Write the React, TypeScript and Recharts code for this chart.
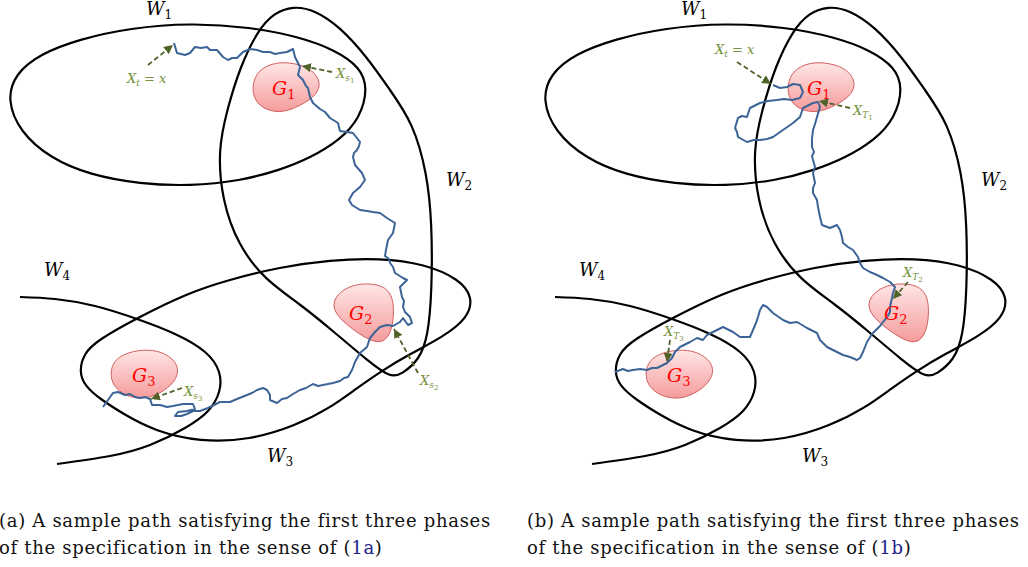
import React from "react";
import { ComposedChart, Line, Scatter, XAxis, YAxis } from "recharts";

type Pt = [number, number];

const PANEL_W = 535;
const PANEL_H = 480;

// region outlines (same in both panels, panel pixel coords)
const W1: Pt[] = [
  [368, 88], [360, 118], [340, 140], [310, 158], [280, 170], [240, 181], [190, 186],
  [140, 184], [90, 175], [50, 158], [20, 132], [7, 100], [15, 74], [40, 54], [80, 39],
  [130, 28], [190, 23], [250, 27], [300, 37], [335, 50], [360, 67],
];
const W2: Pt[] = [
  [293, 6], [315, 10], [340, 27], [367, 57], [390, 90], [413, 123], [427, 173], [432, 223],
  [432, 290], [428, 337], [419, 360], [402, 374], [391, 378], [368, 361], [333, 331],
  [300, 304], [265, 280], [238, 245], [222, 200], [218, 150], [227, 110], [240, 67],
  [258, 30], [274, 13],
];
const W3: Pt[] = [
  [79, 372], [84, 353], [98, 340], [137, 318], [188, 293], [228, 280], [280, 267], [330, 260],
  [380, 258], [425, 264], [459, 279], [473, 297], [468, 318], [443, 337], [410, 354],
  [383, 370], [357, 388], [330, 408], [295, 426], [250, 440], [200, 442], [155, 431],
  [125, 415], [100, 399], [85, 386],
];
const W4: Pt[] = [
  [20, 297], [55, 299], [95, 306], [137, 319], [175, 334], [205, 352], [219, 372],
  [219, 392], [208, 411], [185, 428], [150, 445], [110, 456], [57, 464],
];

// goal sets
const G1: Pt[] = [
  [252, 85], [258, 70], [275, 62], [295, 63], [312, 69], [321, 82], [317, 95], [300, 106],
  [282, 113], [265, 110], [254, 100],
];
const G2: Pt[] = [
  [332, 305], [338, 293], [352, 285], [370, 283], [386, 287], [393, 298], [394, 315],
  [391, 333], [383, 343], [370, 341], [352, 329], [338, 317],
];
const G3: Pt[] = [
  [110, 373], [114, 360], [128, 352], [148, 349], [166, 353], [179, 365], [177, 379],
  [165, 391], [145, 400], [125, 396], [113, 386],
];

// sample path (a)
const PATH_A: Pt[] = [
  [174, 43], [177, 53], [185, 55], [190, 53], [195, 47], [201, 48], [207, 47], [210, 50],
  [217, 50], [223, 57], [228, 60], [232, 58], [237, 58], [243, 52], [250, 49], [257, 50],
  [263, 52], [270, 52], [275, 54], [280, 53], [287, 52], [293, 49], [295, 57], [300, 67],
  [298, 75], [303, 80], [306, 86], [308, 88], [310, 97], [313, 103], [320, 109], [325, 112],
  [330, 118], [338, 123], [340, 131], [347, 132], [353, 133], [360, 142], [359, 146],
  [357, 150], [354, 153], [353, 157], [355, 165], [362, 173], [365, 180], [360, 187],
  [353, 193], [349, 200], [352, 205], [360, 210], [367, 211], [373, 212], [380, 213],
  [387, 218], [395, 223], [393, 233], [388, 240], [386, 250], [385, 256], [389, 259],
  [390, 263], [393, 267], [395, 273], [403, 278], [407, 280], [400, 287], [402, 297],
  [404, 301], [403, 307], [405, 312], [410, 317], [412, 323], [408, 325], [403, 318],
  [400, 322], [393, 326], [387, 325], [380, 327], [375, 332], [370, 338], [367, 347],
  [360, 353], [355, 362], [352, 370], [348, 377], [344, 378], [340, 381], [333, 383],
  [323, 385], [318, 386], [313, 384], [306, 388], [300, 390], [293, 394], [287, 398],
  [282, 399], [277, 403], [270, 400], [270, 395], [267, 390], [263, 388], [257, 390],
  [252, 393], [247, 395], [237, 399], [230, 402], [220, 402], [214, 405], [208, 408],
  [200, 411], [193, 411], [187, 414], [181, 416], [175, 416], [178, 412], [187, 411],
  [195, 409], [193, 404], [183, 404], [173, 406], [167, 407], [160, 405], [152, 405],
  [150, 399], [145, 397], [140, 398], [135, 397], [130, 394], [125, 395], [118, 392],
  [113, 393], [108, 400], [103, 407],
];

// sample path (b)
const PATH_B: Pt[] = [
  [238, 85], [245, 88], [252, 87], [258, 84], [265, 85], [268, 92], [265, 98], [257, 100],
  [249, 99], [242, 100], [233, 101], [225, 103], [215, 108], [212, 117], [207, 116],
  [203, 118], [200, 128], [202, 132], [203, 137], [212, 142], [219, 140], [225, 140],
  [232, 139], [238, 137], [248, 130], [258, 123], [265, 117], [268, 108], [278, 103],
  [283, 102], [285, 107], [282, 117], [280, 124], [278, 130], [277, 139], [277, 147],
  [279, 152], [277, 156], [278, 160], [280, 167], [278, 173], [280, 183], [278, 188],
  [278, 193], [282, 200], [283, 207], [285, 217], [287, 225], [295, 228], [302, 225],
  [305, 230], [307, 237], [308, 243], [313, 247], [318, 250], [323, 257], [325, 263],
  [328, 268], [335, 272], [342, 275], [348, 278], [355, 282], [360, 287], [358, 293],
  [357, 298], [355, 307], [355, 312], [352, 317], [345, 326], [342, 329], [337, 334],
  [332, 342], [328, 352], [325, 358], [322, 360], [315, 357], [308, 355], [298, 350],
  [292, 347], [285, 340], [282, 333], [272, 328], [262, 322], [255, 323], [248, 320],
  [238, 313], [232, 307], [228, 305], [225, 310], [223, 317], [221, 323], [218, 330],
  [215, 337], [205, 337], [198, 332], [188, 327], [182, 330], [172, 335], [168, 340],
  [162, 338], [155, 342], [145, 347], [140, 352], [137, 358], [132, 363], [122, 368],
  [117, 368], [112, 370], [105, 369], [98, 370], [93, 371], [88, 369], [80, 372],
];

const ARROWS_A: Pt[][] = [
  [[148, 65], [173, 45]],
  [[332, 72], [302, 66]],
  [[418, 373], [394, 329]],
  [[182, 388], [151, 399]],
];
const ARROWS_B: Pt[][] = [
  [[202, 62], [236, 84]],
  [[315, 108], [284, 101]],
  [[373, 282], [358, 299]],
  [[135, 340], [132, 362]],
];

type Lbl = { x: number; y: number; kind: "w" | "g" | "x"; main: string; sub: string; subsub?: string; tail?: string };

const REGION_LABELS: Lbl[] = [
  { x: 146, y: 15, kind: "w", main: "W", sub: "1" },
  { x: 446, y: 186, kind: "w", main: "W", sub: "2" },
  { x: 267, y: 462, kind: "w", main: "W", sub: "3" },
  { x: 44, y: 276, kind: "w", main: "W", sub: "4" },
  { x: 272, y: 95, kind: "g", main: "G", sub: "1" },
  { x: 349, y: 320, kind: "g", main: "G", sub: "2" },
  { x: 132, y: 382, kind: "g", main: "G", sub: "3" },
];
const MARKS_A: Lbl[] = [
  { x: 127, y: 83, kind: "x", main: "X", sub: "t", tail: " = x" },
  { x: 336, y: 78, kind: "x", main: "X", sub: "s", subsub: "1" },
  { x: 420, y: 385, kind: "x", main: "X", sub: "s", subsub: "2" },
  { x: 184, y: 396, kind: "x", main: "X", sub: "s", subsub: "3" },
];
const MARKS_B: Lbl[] = [
  { x: 180, y: 54, kind: "x", main: "X", sub: "t", tail: " = x" },
  { x: 318, y: 115, kind: "x", main: "X", sub: "T", subsub: "1" },
  { x: 368, y: 277, kind: "x", main: "X", sub: "T", subsub: "2" },
  { x: 129, y: 336, kind: "x", main: "X", sub: "T", subsub: "3" },
];

const rows = (pts: Pt[]) => pts.map(([x, y]) => ({ x, y }));

const STY = {
  w: { color: "#000", size: 18, sub: 12, dy: 4 },
  g: { color: "#ff0000", size: 19, sub: 13, dy: 4 },
  x: { color: "#76923c", size: 13, sub: 9, dy: 3 },
};

function MathLabel(props: any) {
  const { cx, cy, payload } = props;
  const s = STY[payload.kind as "w" | "g" | "x"];
  const isNum = /\d/.test(payload.sub);
  return (
    <text x={cx} y={cy} fill={s.color} fontFamily='"DejaVu Serif", serif' fontStyle="italic" fontSize={s.size}>
      {payload.main}
      <tspan fontSize={s.sub} dy={s.dy} fontStyle={isNum ? "normal" : "italic"}>{payload.sub}</tspan>
      {payload.subsub && (
        <tspan fontSize={7} dy={2} fontStyle="normal">{payload.subsub}</tspan>
      )}
      {payload.tail && (
        <tspan fontSize={s.size} dy={-s.dy} style={{ whiteSpace: "pre" }}>{payload.tail}</tspan>
      )}
    </text>
  );
}

function Panel({ id, path, arrows, marks }: { id: string; path: Pt[]; arrows: Pt[][]; marks: Lbl[] }) {
  return (
    <ComposedChart width={PANEL_W} height={PANEL_H} margin={{ top: 0, right: 0, bottom: 0, left: 0 }}>
      <defs>
        <linearGradient id={`${id}-goal`} x1="0" y1="0" x2="0" y2="1">
          <stop offset="0%" stopColor="#ffe6e6" />
          <stop offset="100%" stopColor="#f59c9c" />
        </linearGradient>
        <marker id={`${id}-head`} viewBox="0 0 10 10" refX={10} refY={5} markerWidth={9} markerHeight={9}
          markerUnits="userSpaceOnUse" orient="auto">
          <path d="M0,0 L10,5 L0,10 z" fill="#4f6228" />
        </marker>
      </defs>
      <XAxis type="number" dataKey="x" domain={[0, PANEL_W]} hide allowDataOverflow />
      <YAxis type="number" dataKey="y" domain={[0, PANEL_H]} reversed hide allowDataOverflow />
      {[G1, G2, G3].map((g, i) => (
        <Line key={`g${i}`} data={rows(g)} dataKey="y" type="basisClosed" className={`goal-${id}`}
          stroke="#d25f5f" strokeWidth={1} dot={false} activeDot={false} isAnimationActive={false} />
      ))}
      {[W1, W2, W3].map((w, i) => (
        <Line key={`w${i}`} data={rows(w)} dataKey="y" type="basisClosed" stroke="#000" strokeWidth={2.2}
          dot={false} activeDot={false} isAnimationActive={false} />
      ))}
      <Line data={rows(W4)} dataKey="y" type="natural" stroke="#000" strokeWidth={2.2}
        dot={false} activeDot={false} isAnimationActive={false} />
      <Line data={rows(path)} dataKey="y" type="linear" stroke="#3c6496" strokeWidth={2}
        strokeLinejoin="round" dot={false} activeDot={false} isAnimationActive={false} />
      {arrows.map((a, i) => (
        <Line key={`a${i}`} data={rows(a)} dataKey="y" type="linear" className={`arrow-${id}`}
          stroke="#4f6228" strokeWidth={1.8} strokeDasharray="5 3" dot={false} activeDot={false}
          isAnimationActive={false} />
      ))}
      <Scatter data={[...REGION_LABELS, ...marks]} shape={MathLabel} isAnimationActive={false} />
    </ComposedChart>
  );
}

const CAPTION: React.CSSProperties = {
  position: "absolute",
  top: 507,
  fontFamily: '"DejaVu Serif", serif',
  fontSize: 18,
  letterSpacing: 0.7,
  lineHeight: "27px",
  whiteSpace: "nowrap",
  color: "#111",
};

export default function App() {
  return (
    <div style={{ position: "absolute", left: 0, top: 0, width: 1028, height: 567, overflow: "hidden", background: "#fff" }}>
      <style>{`
        .goal-a .recharts-line-curve { fill: url(#a-goal); }
        .goal-b .recharts-line-curve { fill: url(#b-goal); }
        .arrow-a .recharts-line-curve { marker-end: url(#a-head); }
        .arrow-b .recharts-line-curve { marker-end: url(#b-head); }
      `}</style>
      <div style={{ position: "absolute", left: 0, top: 0 }}>
        <Panel id="a" path={PATH_A} arrows={ARROWS_A} marks={MARKS_A} />
      </div>
      <div style={{ position: "absolute", left: 535, top: 0 }}>
        <Panel id="b" path={PATH_B} arrows={ARROWS_B} marks={MARKS_B} />
      </div>
      <div style={{ ...CAPTION, left: -1 }}>
        (a) A sample path satisfying the first three phases
        <br />
        of the specification in the sense of (<span style={{ color: "#22228c" }}>1a</span>)
      </div>
      <div style={{ ...CAPTION, left: 527 }}>
        (b) A sample path satisfying the first three phases
        <br />
        of the specification in the sense of (<span style={{ color: "#22228c" }}>1b</span>)
      </div>
    </div>
  );
}
